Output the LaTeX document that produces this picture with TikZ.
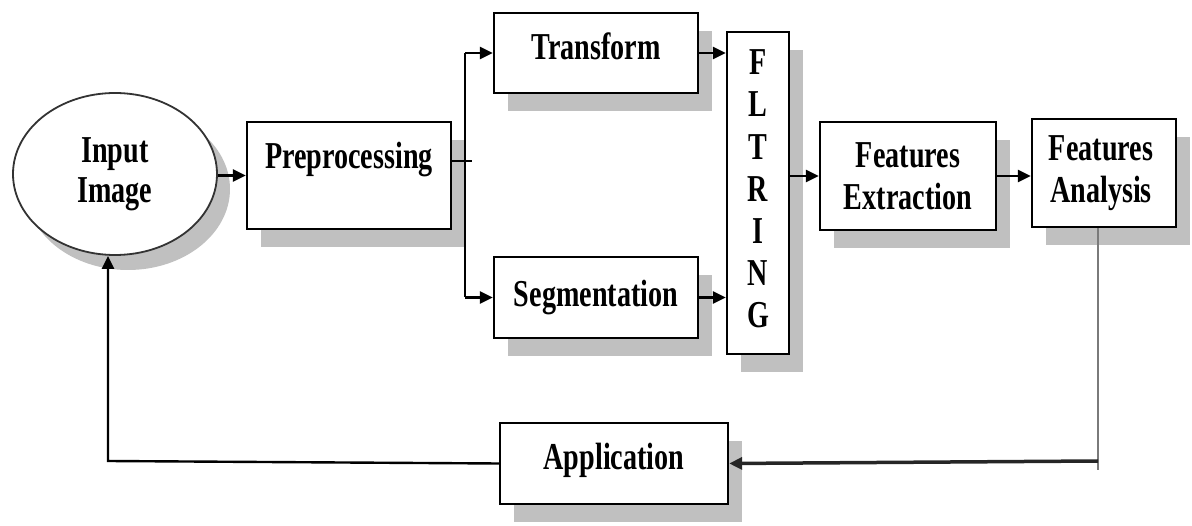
\documentclass[tikz,border=0pt]{standalone}
\usepackage{fontspec}
\setmainfont{Liberation Serif}[FakeStretch=0.74]
\usetikzlibrary{arrows.meta,shadows,calc,shapes.geometric}

\definecolor{shgray}{HTML}{C0C0C0}
\definecolor{fbgray}{HTML}{7A7A7A}

\tikzset{
  blk/.style={draw=black, line width=2.4pt, fill=white, rectangle, inner sep=0pt,
    drop shadow={shadow xshift=14pt, shadow yshift=-18pt, fill=shgray, draw=none, opacity=1}},
  oval/.style={draw=black!80, line width=1.8pt, fill=white, ellipse, inner sep=0pt,
    drop shadow={shadow xshift=13pt, shadow yshift=-15pt, fill=shgray, draw=none, opacity=1}},
  txt/.style={font=\fontsize{38}{42}\selectfont\bfseries, align=center, inner sep=0pt},
  wire/.style={line width=2.4pt, black},
  arr/.style={wire, -{Triangle[length=13pt,width=12pt]}},
}

\begin{document}
\begin{tikzpicture}[x=1pt, y=-1pt]
  \useasboundingbox (0,0) rectangle (1192,526);

  % processing blocks
  \node[oval, minimum width=204pt, minimum height=162pt,
        label={[txt, font=\fontsize{38}{40}\selectfont\bfseries]center:Input\\Image}] (inp) at (115,174) {};
  \node[blk, minimum width=204pt, minimum height=107pt,
        label={[txt, yshift=16pt]center:Preprocessing}] (pre) at (349,175.5) {};
  \node[blk, minimum width=204pt, minimum height=80pt,
        label={[txt, yshift=7pt]center:Transform}] (tr) at (596,53) {};
  \node[blk, minimum width=204pt, minimum height=81pt,
        label={[txt]center:Segmentation}] (seg) at (596,297.5) {};
  \node[blk, minimum width=62pt, minimum height=322pt,
        label={[txt, yshift=4pt, font=\fontsize{38}{42.2}\selectfont\bfseries]center:F\\L\\T\\R\\I\\N\\G}] (flt) at (758,193) {};
  \node[blk, minimum width=176pt, minimum height=108pt,
        label={[txt]center:Features\\Extraction}] (fe) at (908,176) {};
  \node[blk, minimum width=144pt, minimum height=108pt,
        label={[txt, xshift=-3pt]center:Features\\Analysis}] (fa) at (1104,173) {};
  \node[blk, minimum width=228pt, minimum height=81pt,
        label={[txt, yshift=3pt]center:Application}] (app) at (614,463.5) {};

  % branch and return points
  \coordinate (sp) at (465,161);
  \coordinate (fb) at (1098,461);
  \coordinate (fl) at (108,461);

  % forward flow
  \draw[arr] (inp.east |- pre.west) -- (pre.west);
  \draw[wire] (pre.east |- sp) -- ($(sp)+(7,0)$);
  \draw[wire] (sp |- tr.west) -- (sp |- seg.west);
  \draw[arr] (sp |- tr.west) -- (tr.west);
  \draw[arr] (sp |- seg.west) -- (seg.west);
  \draw[arr] (tr.east) -- (tr.east -| flt.west);
  \draw[arr] (seg.east) -- (seg.east -| flt.west);
  \draw[arr] (flt.east |- fe.west) -- (fe.west);
  \draw[arr] (fe.east) -- (fe.east -| fa.west);

  % feedback loop
  \draw[line width=2.4pt, fbgray] (fa.south -| fb) -- ($(fb)+(0,9)$);
  \draw[line width=3.5pt, black!85, -{Triangle[length=13pt,width=12pt]}] (fb) -- (app.east);
  \draw[arr] (app.west) -- (fl) -- (fl |- inp.south);
\end{tikzpicture}
\end{document}
